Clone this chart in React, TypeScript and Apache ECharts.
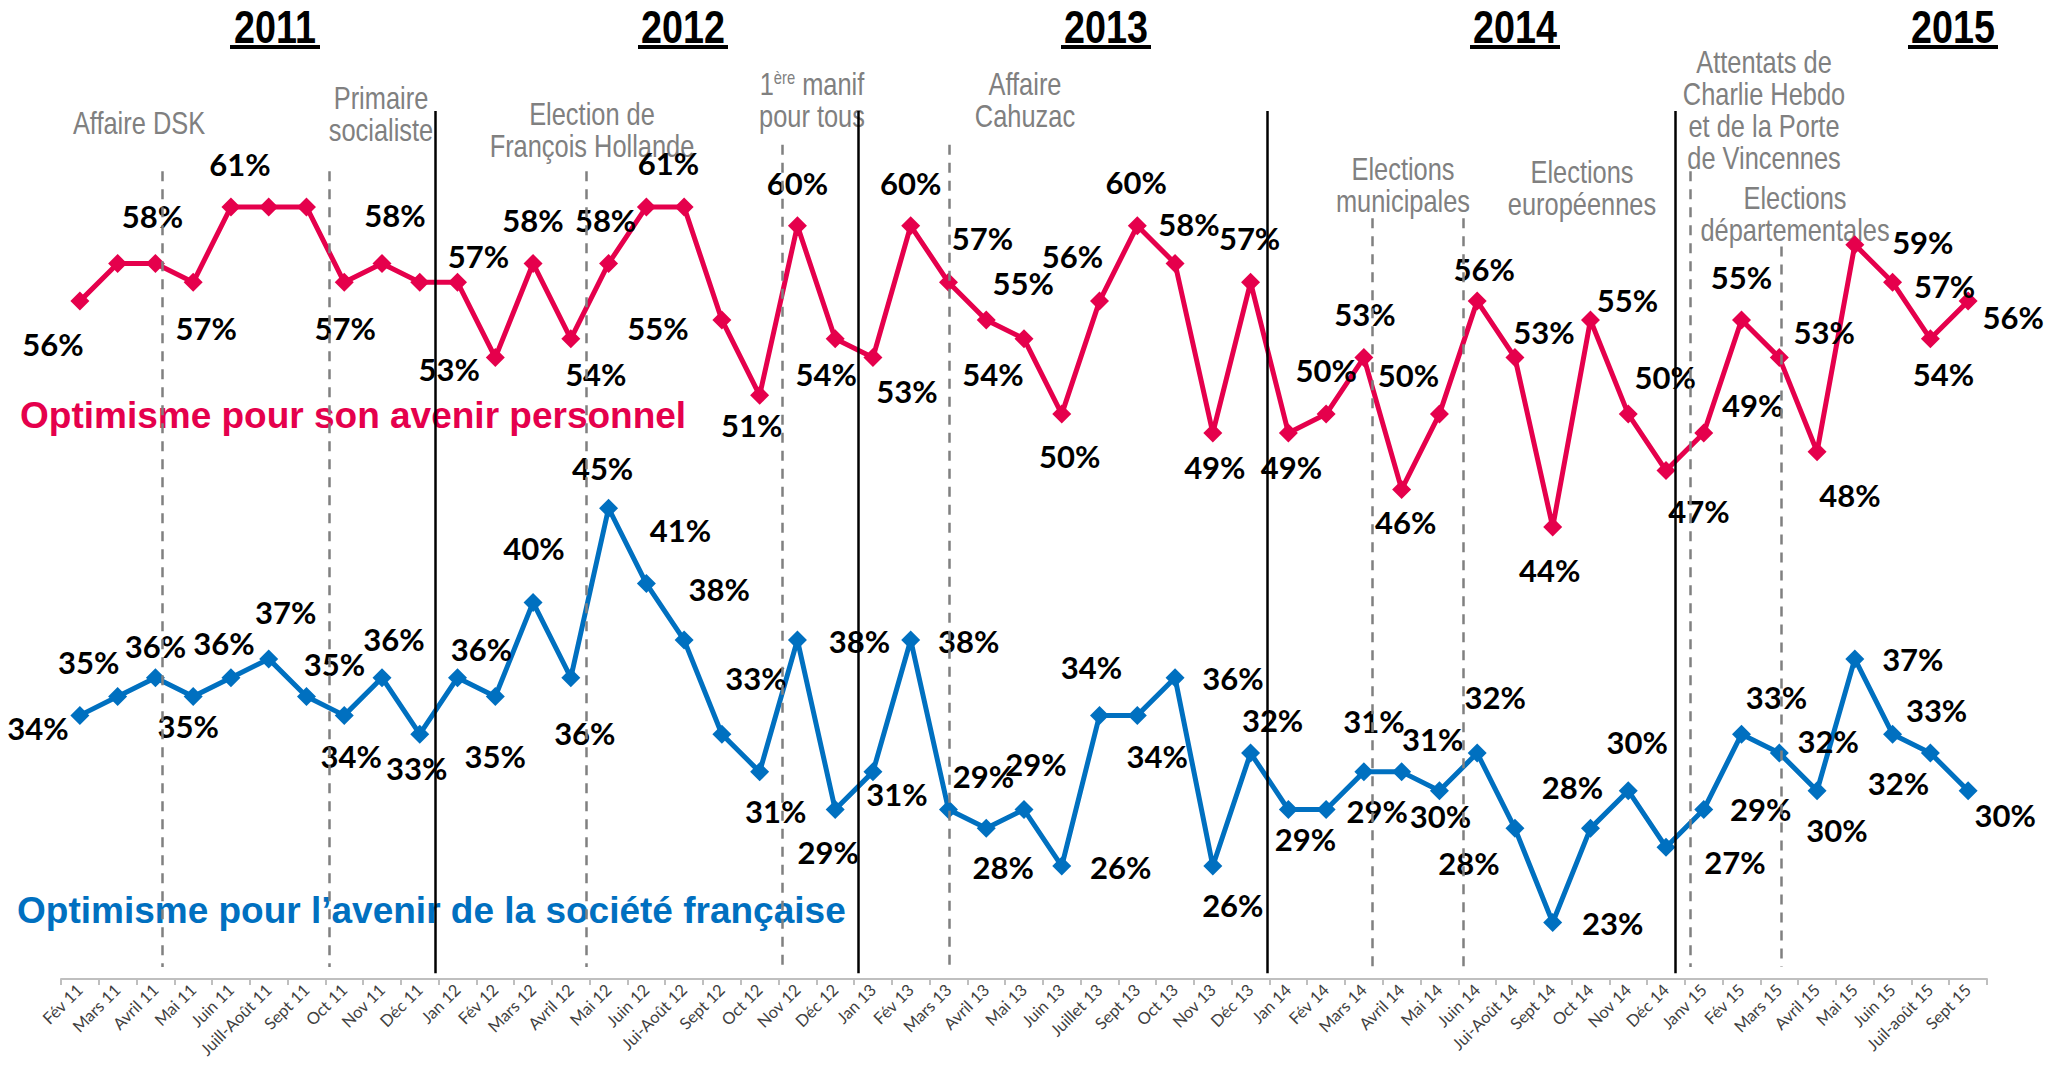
import React, { useEffect, useRef } from "react";
import * as echarts from "echarts";

const months = [
  "Fév 11", "Mars 11", "Avril 11", "Mai 11", "Juin 11", "Juill-Août 11", "Sept 11", "Oct 11", "Nov 11", "Déc 11",
  "Jan 12", "Fév 12", "Mars 12", "Avril 12", "Mai 12", "Juin 12", "Jui-Août 12", "Sept 12", "Oct 12", "Nov 12", "Déc 12",
  "Jan 13", "Fév 13", "Mars 13", "Avril 13", "Mai 13", "Juin 13", "Juillet 13", "Sept 13", "Oct 13", "Nov 13", "Déc 13",
  "Jan 14", "Fév 14", "Mars 14", "Avril 14", "Mai 14", "Juin 14", "Jui-Août 14", "Sept 14", "Oct 14", "Nov 14", "Déc 14",
  "Janv 15", "Fév 15", "Mars 15", "Avril 15", "Mai 15", "Juin 15", "Juil-août 15", "Sept 15",
];

const personnel = [
  56, 58, 58, 57, 61, 61, 61, 57, 58, 57,
  57, 53, 58, 54, 58, 61, 61, 55, 51, 60, 54,
  53, 60, 57, 55, 54, 50, 56, 60, 58, 49, 57,
  49, 50, 53, 46, 50, 56, 53, 44, 55, 50, 47,
  49, 55, 53, 48, 59, 57, 54, 56,
];

const societe = [
  34, 35, 36, 35, 36, 37, 35, 34, 36, 33,
  36, 35, 40, 36, 45, 41, 38, 33, 31, 38, 29,
  31, 38, 29, 28, 29, 26, 34, 34, 36, 26, 32,
  29, 29, 31, 31, 30, 32, 28, 23, 28, 30, 27,
  29, 33, 32, 30, 37, 33, 32, 30,
];

const yearTitles = ["2011", "2012", "2013", "2014", "2015"];
const seriesNames = ["Optimisme pour son avenir personnel", "Optimisme pour l’avenir de la société française"];

// year separators (category-position units) and event markers
const yearBreaks = [9.4, 20.61, 31.43, 42.24];
const eventLines = [
  { x: 2.19, top: 62.9 },
  { x: 6.6, top: 62.9 },
  { x: 13.4, top: 62.9 },
  { x: 18.61, top: 64.3 },
  { x: 23.02, top: 64.3 },
  { x: 34.23, top: 60.4 },
  { x: 36.64, top: 60.4 },
  { x: 42.64, top: 62.9 },
  { x: 45.05, top: 58.9 },
];

// label placement styles (pixel offsets relative to each point; null = hidden)
const redLabelOffsets: (number[] | null)[] = [
  [-27, 43], null, [-3, -47], [13, 46], [9, -43], null, null, [1, 46], [13, -48], null,
  [21, -26], [-46, 11], [0, -43], [25, 35], [-3, -43], [22, -44], null, [-64, 8], [-8, 30], [0, -43], [-9, 35],
  [34, 33], [0, -43], [34, -44], [37, -37], [-31, 35], [8, 42], [-27, -45], [-1, -44], [14, -39], [2, 34], [-1, -44],
  [3, 34], [0, -44], [1, -44], [4, 33], [-31, -39], [7, -32], [29, -26], [-3, 43], [37, -20], [37, -37], [33, 40],
  [49, -28], [0, -43], [45, -26], [33, 43], [68, -3], [52, 4], [13, 35], [45, 16],
];
const blueLabelOffsets: number[][] = [
  [-42, 13], [-29, -35], [0, -32], [-5, 29], [-7, -35], [17, -47], [28, -33], [7, 41], [12, -39], [-3, 34],
  [24, -29], [0, 59], [1, -54], [14, 55], [-6, -40], [34, -54], [35, -51], [34, -56], [16, 39], [62, 1], [-7, 42],
  [24, 22], [58, 1], [35, -34], [17, 39], [12, -46], [59, 1], [-8, -48], [20, 41], [58, 0], [20, 39], [22, -33],
  [17, 29], [51, 1], [10, -51], [31, -33], [1, 25], [18, -56], [-46, 35], [60, 0], [-18, -41], [9, -49], [69, 15],
  [57, -1], [35, -37], [49, -12], [20, 39], [58, 0], [44, -24], [-32, 30], [37, 24],
];

const RED = "#E5004C";
const BLUE = "#0070C0";
const SANS = "'Liberation Sans', Arial, sans-serif";
const LABEL_FONT = "Lato, 'Open Sans', sans-serif";
const NARROW_SCALE = 0.82;

const annotations = [
  { text: "Affaire DSK", x: 139, y: 123 },
  { text: "Primaire\nsocialiste", x: 381, y: 114 },
  { text: "Election de\nFrançois Hollande", x: 592, y: 130 },
  { text: "{n|1}{s|ère}{n| manif}\n{n|pour tous}", x: 812, y: 100, rich: true },
  { text: "Affaire\nCahuzac", x: 1025, y: 100 },
  { text: "Elections\nmunicipales", x: 1403, y: 185 },
  { text: "Elections\neuropéennes", x: 1582, y: 188 },
  { text: "Attentats de\nCharlie Hebdo\net de la Porte\nde Vincennes", x: 1764, y: 110 },
  { text: "Elections\ndépartementales", x: 1795, y: 214 },
];
const yearCenters = [275, 683, 1106, 1515, 1953];

function App() {
  const ref = useRef<HTMLDivElement>(null);
  useEffect(() => {
    if (!ref.current) return;
    const chart = echarts.init(ref.current, undefined, { renderer: "svg" });

    const labelBase = {
      position: "inside",
      formatter: "{c}%",
      color: "#000",
      fontFamily: LABEL_FONT,
      fontWeight: "bold",
      fontSize: 31,
    };

    const redData = personnel.map((v, i) => {
      const off = redLabelOffsets[i];
      return off ? { value: v, label: { show: true, ...labelBase, offset: off } } : { value: v, label: { show: false } };
    });
    const blueData = societe.map((v, i) => ({ value: v, label: { show: true, ...labelBase, offset: blueLabelOffsets[i] } }));

    const markLines: any[] = [];
    yearBreaks.forEach((x) => {
      markLines.push([
        { coord: [x, 66.1], lineStyle: { color: "#000", width: 2.5, type: "solid" } },
        { coord: [x, 20.3] },
      ]);
    });
    eventLines.forEach((e) => {
      markLines.push([
        { coord: [e.x, e.top], lineStyle: { color: "#808080", width: 2.5, type: [10, 8] } },
        { coord: [e.x, 20.64] },
      ]);
    });

    const graphics: any[] = [];
    yearTitles.forEach((t, i) => {
      graphics.push({
        type: "text",
        x: yearCenters[i],
        y: 27,
        scaleX: NARROW_SCALE,
        style: {
          text: t,
          fill: "#000",
          font: `bold 46px ${SANS}`,
          textAlign: "center",
          textVerticalAlign: "middle",
        },
      });
      graphics.push({
        type: "rect",
        shape: { x: yearCenters[i] - 45, y: 45, width: 90, height: 4 },
        style: { fill: "#000" },
      });
    });
    annotations.forEach((a) => {
      const style: any = {
        text: a.text,
        fill: "#808080",
        font: `31px ${SANS}`,
        lineHeight: 32,
        textAlign: "center",
        textVerticalAlign: "middle",
      };
      if (a.rich) {
        style.rich = {
          n: { font: `31px ${SANS}`, fill: "#808080", lineHeight: 32, verticalAlign: "bottom" },
          s: { font: `18px ${SANS}`, fill: "#808080", lineHeight: 32, verticalAlign: "top" },
        };
      }
      graphics.push({ type: "text", x: a.x, y: a.y, scaleX: NARROW_SCALE, style });
    });
    graphics.push({
      type: "text",
      x: 20,
      y: 415,
      style: {
        text: seriesNames[0],
        fill: RED,
        font: `bold 37px ${SANS}`,
        textAlign: "left",
        textVerticalAlign: "middle",
      },
    });
    graphics.push({
      type: "text",
      x: 17,
      y: 910,
      style: {
        text: seriesNames[1],
        fill: BLUE,
        font: `bold 37px ${SANS}`,
        textAlign: "left",
        textVerticalAlign: "middle",
      },
    });

    chart.setOption({
      animation: false,
      backgroundColor: "#fff",
      grid: { left: 61, right: 66, top: 37.5, bottom: 87, containLabel: false, outerBoundsMode: "none" },
      xAxis: [
        {
          type: "category",
          data: months,
          boundaryGap: true,
          axisLine: { lineStyle: { color: "#BFBFBF", width: 2 } },
          axisTick: { show: true, length: 6, lineStyle: { color: "#BFBFBF", width: 2 } },
          axisLabel: {
            interval: 0,
            rotate: 45,
            fontSize: 16.5,
            fontFamily: LABEL_FONT,
            color: "#404040",
            margin: 8,
          },
        },
        { type: "value", min: -0.5, max: 50.5, show: false },
      ],
      yAxis: { type: "value", min: 20, max: 70, show: false },
      series: [
        {
          name: seriesNames[0],
          type: "line",
          data: redData,
          symbol: "diamond",
          symbolSize: 19,
          lineStyle: { color: RED, width: 5 },
          itemStyle: { color: RED },
          z: 3,
        },
        {
          name: seriesNames[1],
          type: "line",
          data: blueData,
          symbol: "diamond",
          symbolSize: 19,
          lineStyle: { color: BLUE, width: 5 },
          itemStyle: { color: BLUE },
          z: 3,
        },
        {
          type: "line",
          xAxisIndex: 1,
          yAxisIndex: 0,
          data: [],
          silent: true,
          z: 1,
          markLine: {
            silent: true,
            symbol: "none",
            label: { show: false },
            data: markLines,
          },
        },
      ],
      graphic: graphics,
    });
    return () => chart.dispose();
  }, []);
  return <div ref={ref} style={{ width: 2053, height: 1066, position: "absolute", left: 0, top: 0 }} />;
}

export default App;
